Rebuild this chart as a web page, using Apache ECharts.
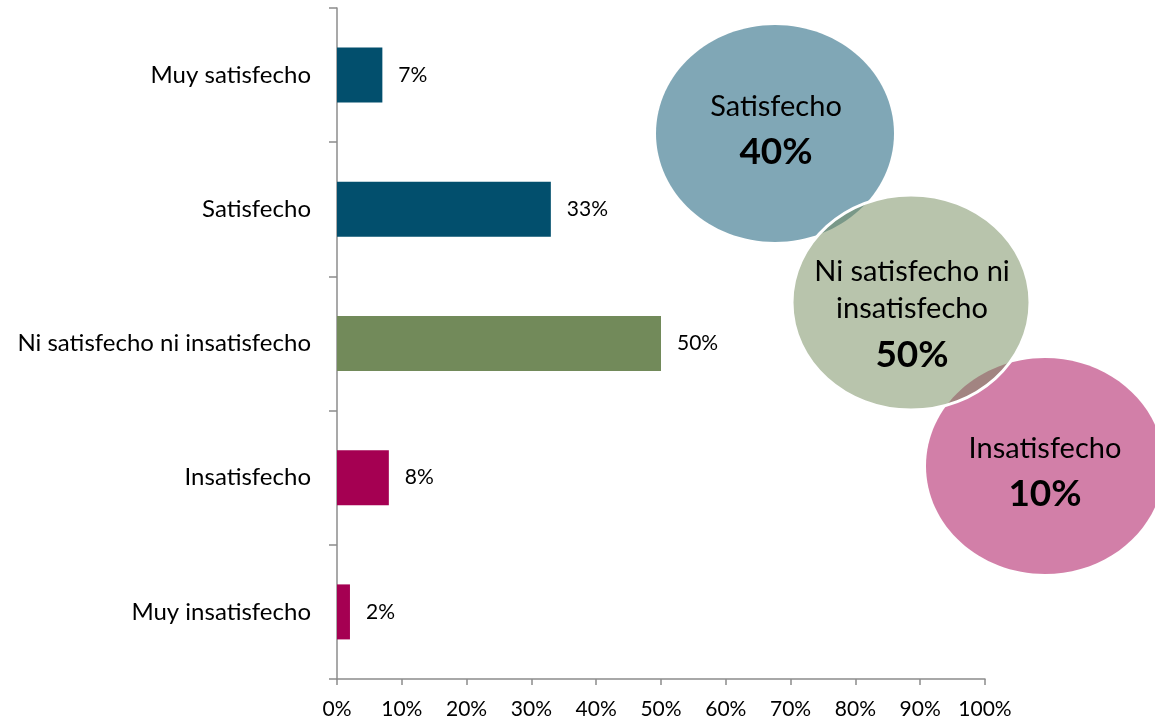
<!DOCTYPE html>
<html>
<head>
<meta charset="utf-8">
<script src="https://cdn.jsdelivr.net/npm/echarts@6/dist/echarts.min.js"></script>
<style>
  html, body { margin: 0; padding: 0; background: #ffffff; }
  #chart { width: 1155px; height: 721px; }
</style>
</head>
<body>
<div id="chart"></div>
<script>
// Satisfaction levels, top to bottom
const categories = ['Muy satisfecho', 'Satisfecho', 'Ni satisfecho ni insatisfecho', 'Insatisfecho', 'Muy insatisfecho'];
// Share of respondents per level (%)
const shares = [7, 33, 50, 8, 2];
// Colour group of each level: 0 = satisfied, 1 = neutral, 2 = dissatisfied
const levelGroup = [0, 0, 1, 2, 2];

// Grouped totals shown in the bubbles
const groupNames = ['Satisfecho', 'Ni satisfecho ni\ninsatisfecho', 'Insatisfecho'];
const groupValues = [40, 50, 10];

// Value axis ticks (%)
const axisMin = 0;
const axisMax = 100;
const axisStep = 10;

const FONT = 'Lato, "Open Sans", sans-serif';
const barColors = ['#024F6D', '#728A5A', '#A50052'];
const bubbleFills = ['rgba(2,79,109,0.5)', 'rgba(114,138,90,0.5)', 'rgba(165,0,82,0.5)'];
const AXIS_GREY = '#8c8c8c';

const chart = echarts.init(document.getElementById('chart'), null, { renderer: 'canvas' });

// Bubble geometry: [cx, cy, rx, ry]; the neutral bubble sits on top with a white rim
const bubbleGeom = [
  [775, 133.5, 119, 108.5],
  [911, 302.5, 119, 107.5],
  [1045, 466, 119, 108]
];
// Text anchor per bubble: x centre, y of each name line, y of the value line
const bubbleText = [
  { x: 776, nameY: [107], valueY: 152 },
  { x: 912, nameY: [272, 309], valueY: 355 },
  { x: 1045, nameY: [449], valueY: 494 }
];
const drawOrder = [0, 2, 1];

function bubbleElements() {
  const els = [];
  drawOrder.forEach(function (g, k) {
    const [cx, cy, rx, ry] = bubbleGeom[g];
    els.push({
      type: 'ellipse',
      z: 100 + k,
      shape: { cx: cx, cy: cy, rx: rx, ry: ry },
      style: {
        fill: bubbleFills[g],
        stroke: g === 1 ? '#ffffff' : null,
        lineWidth: g === 1 ? 3 : 0
      },
      silent: true
    });
  });
  groupNames.forEach(function (name, g) {
    const t = bubbleText[g];
    name.split('\n').forEach(function (line, i) {
      els.push({
        type: 'text',
        z: 120,
        x: t.x,
        y: t.nameY[i],
        style: {
          text: line,
          align: 'center',
          verticalAlign: 'middle',
          fill: '#000000',
          fontFamily: FONT,
          fontSize: 29
        },
        silent: true
      });
    });
    els.push({
      type: 'text',
      z: 120,
      x: t.x,
      y: t.valueY,
      style: {
        text: groupValues[g] + '%',
        align: 'center',
        verticalAlign: 'middle',
        fill: '#000000',
        fontFamily: FONT,
        fontSize: 37,
        fontWeight: 'bold'
      },
      silent: true
    });
  });
  return els;
}

chart.setOption({
  animation: false,
  backgroundColor: '#ffffff',
  grid: { left: 337, right: 170, top: 8, bottom: 42, containLabel: false },
  xAxis: {
    type: 'value',
    min: axisMin,
    max: axisMax,
    interval: axisStep,
    axisLine: { show: true, lineStyle: { color: AXIS_GREY, width: 1.5 } },
    axisTick: { show: true, length: 6, lineStyle: { color: AXIS_GREY, width: 1.5 } },
    splitLine: { show: false },
    axisLabel: {
      formatter: '{value}%',
      color: '#000',
      fontFamily: FONT,
      fontSize: 21,
      margin: 20
    }
  },
  yAxis: {
    type: 'category',
    data: categories,
    inverse: true,
    axisLine: { show: true, lineStyle: { color: AXIS_GREY, width: 1.5 } },
    axisTick: { show: true, length: 8, alignWithLabel: false, lineStyle: { color: AXIS_GREY, width: 1.5 } },
    axisLabel: {
      color: '#000',
      fontFamily: FONT,
      fontSize: 24,
      margin: 26
    }
  },
  series: [{
    type: 'bar',
    data: shares.map(function (v, i) {
      return { value: v, itemStyle: { color: barColors[levelGroup[i]] } };
    }),
    barWidth: 55,
    label: {
      show: true,
      position: 'right',
      distance: 16,
      formatter: '{c}%',
      color: '#000',
      fontFamily: FONT,
      fontSize: 21
    }
  }],
  graphic: { elements: bubbleElements() }
});
</script>
</body>
</html>
